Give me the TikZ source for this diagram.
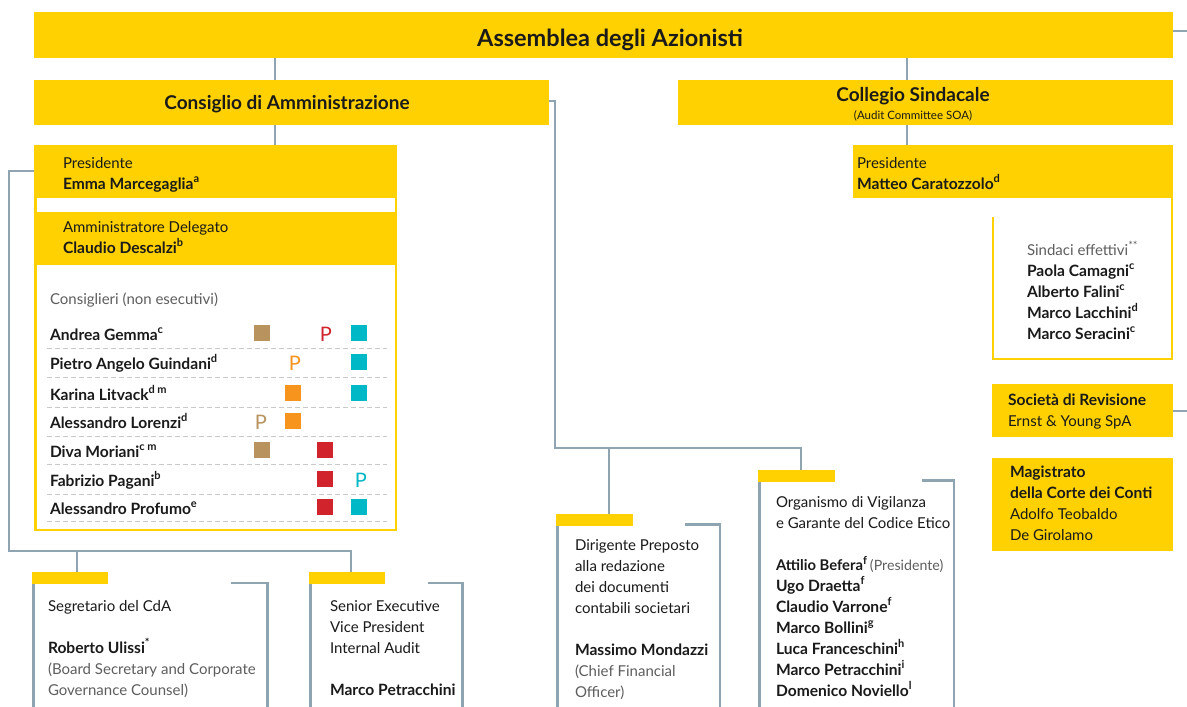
\documentclass[tikz,border=0pt]{standalone}
\usepackage{fontspec}
\setmainfont{Lato}
\definecolor{ey}{HTML}{FFD100}
\definecolor{lg}{HTML}{8FA4B1}
\definecolor{td}{HTML}{1A1A1A}
\definecolor{tg}{HTML}{5E5E5E}
\definecolor{dl}{HTML}{C9C9C9}
\definecolor{ctan}{HTML}{B9935E}
\definecolor{corg}{HTML}{F6941E}
\definecolor{cred}{HTML}{D0232B}
\definecolor{ccy}{HTML}{00B8C6}
\newcommand\sps[1]{\raisebox{0.4em}{\fontsize{11}{11}\selectfont #1}}
\newcommand\bodyf{\fontsize{15}{21}\selectfont}
\newcommand\nm[1]{{\fontsize{15.6}{21}\selectfont\bfseries #1}}
\newcommand\mlines[1]{\begin{tabular}[t]{@{}l@{}}#1\end{tabular}}
\newcommand\gt[1]{\textcolor{tg}{#1}}
\tikzset{
  ybox/.style={fill=ey, inner sep=0pt, outer sep=0pt, anchor=north west},
  conn/.style={draw=lg, line width=2.5pt},
  txt/.style={anchor=base west, inner sep=0pt, outer sep=0pt, font=\bodyf, text=td},
  sq/.style={fill=#1, minimum size=16pt, inner sep=0pt, outer sep=0pt},
  pl/.style={text=#1, font=\fontsize{20}{20}\selectfont, inner sep=0pt, anchor=base},
  dline/.style={draw=dl, line width=1pt, dash pattern=on 5pt off 3pt},
  yline/.style={draw=ey, line width=2.5pt},
  headf/.style={font=\fontsize{23.5}{26}\selectfont\bfseries, text=td, inner sep=0pt, anchor=base},
  subf/.style={font=\fontsize{19}{22}\selectfont\bfseries, text=td, inner sep=0pt, anchor=base},
}
\begin{document}
\begin{tikzpicture}[x=1pt,y=-1pt]
\useasboundingbox[fill=white] (0,0) rectangle (1187,707);
% helper coordinates
\coordinate (xa) at (275,0);
\coordinate (xb) at (907,0);
\coordinate (edge) at (1187,0);
\coordinate (ay) at (0,31);
\coordinate (lx) at (9,0);
\coordinate (hy) at (0,551);
\coordinate (segJ) at (77,0);
\coordinate (senJ) at (351,0);
\coordinate (rx) at (555,0);
\coordinate (hy2) at (0,448);
\coordinate (dJ) at (609,0);
\coordinate (oJ) at (801,0);
\coordinate (bot) at (0,712);

% top boxes
\node[ybox, minimum width=1139pt, minimum height=46pt] (ass) at (34,12) {};
\node[headf] (assT) at (610,46) {Assemblea degli Azionisti};
\node[ybox, minimum width=515pt, minimum height=45pt] (cda) at (34,80) {};
\node[subf] (cdaT) at (287,109) {Consiglio di Amministrazione};
\node[ybox, minimum width=495pt, minimum height=45pt] (cs) at (678,80) {};
\node[subf] (csT) at (913,101.5) {Collegio Sindacale};
\node[font=\fontsize{11.5}{12}\selectfont, text=td, inner sep=0pt, anchor=base] (csS) at (913,119.5) {(Audit Committee SOA)};

% board block
\node[ybox, minimum width=363pt, minimum height=53pt] (presB) at (34,145) {};
\node[ybox, minimum width=363pt, minimum height=53pt] (adB) at (34,212) {};
\node[draw=ey, line width=2.5pt, inner sep=0pt, outer sep=0pt, anchor=north west, minimum width=360.5pt, minimum height=383.5pt] (cons) at (35.25,146.25) {};
\node[txt] (presT) at (63,168) {\mlines{Presidente\\\nm{Emma Marcegaglia\sps{a}}}};
\node[txt] (adT) at (63,232) {\mlines{Amministratore Delegato\\\nm{Claudio Descalzi\sps{b}}}};
\node[txt, text=tg] (consT) at (50,304) {Consiglieri (non esecutivi)};

% dashed separators
\foreach \yy in {348,377,407,436,464,494,521}{
  \draw[dline] (47,\yy) -- (387,\yy);
}
% names
\node[txt] (n1) at (50,340) {\nm{Andrea Gemma\sps{c}}};
\node[txt] (n2) at (50,369) {\nm{Pietro Angelo Guindani\sps{d}}};
\node[txt] (n3) at (50,400) {\nm{Karina Litvack\sps{d m}}};
\node[txt] (n4) at (50,428) {\nm{Alessandro Lorenzi\sps{d}}};
\node[txt] (n5) at (50,457) {\nm{Diva Moriani\sps{c m}}};
\node[txt] (n6) at (50,486) {\nm{Fabrizio Pagani\sps{b}}};
\node[txt] (n7) at (50,514) {\nm{Alessandro Profumo\sps{e}}};
% committee marks
\node[sq=ctan] (s11) at (262,333) {};
\node[pl=cred] (p13) at (326,341) {P};
\node[sq=ccy] (s14) at (359,333) {};
\node[pl=corg] (p22) at (295,370) {P};
\node[sq=ccy] (s24) at (359,362) {};
\node[sq=corg] (s32) at (293,393) {};
\node[sq=ccy] (s34) at (359,393) {};
\node[pl=ctan] (p41) at (261,429) {P};
\node[sq=corg] (s42) at (293,421) {};
\node[sq=ctan] (s51) at (262,450) {};
\node[sq=cred] (s53) at (325,450) {};
\node[sq=cred] (s63) at (325,479) {};
\node[pl=ccy] (p64) at (361,487) {P};
\node[sq=cred] (s73) at (325,507) {};
\node[sq=ccy] (s74) at (359,507) {};

% right column
\node[ybox, minimum width=320pt, minimum height=53pt] (csp) at (853,145) {};
\node[txt] (cspT) at (857,168) {\mlines{Presidente\\\nm{Matteo Caratozzolo\sps{d}}}};
\draw[yline] (993,217) -- (993,358.75) -- (1171.75,358.75) -- (1171.75,198);
\node[txt] (sinT) at (1027,255) {\mlines{\gt{Sindaci effettivi\sps{**}}\\\nm{Paola Camagni\sps{c}}\\\nm{Alberto Falini\sps{c}}\\\nm{Marco Lacchini\sps{d}}\\\nm{Marco Seracini\sps{c}}}};
\node[ybox, minimum width=181pt, minimum height=53pt] (rev) at (992,384) {};
\node[txt] (revT) at (1008,405) {\mlines{\nm{Società di Revisione}\\Ernst \& Young SpA}};
\node[ybox, minimum width=181pt, minimum height=93pt] (mag) at (992,458) {};
\node[txt] (magT) at (1010,477) {\mlines{\nm{Magistrato}\\\nm{della Corte dei Conti}\\Adolfo Teobaldo\\De Girolamo}};

% bottom boxes
\node[ybox, minimum width=76pt, minimum height=11.5pt] (segTab) at (32,572) {};
\node[ybox, minimum width=76pt, minimum height=11.5pt] (senTab) at (309,572) {};
\node[ybox, minimum width=77pt, minimum height=11.5pt] (dirTab) at (556,514) {};
\node[ybox, minimum width=77pt, minimum height=11.5pt] (orgTab) at (758,470) {};
\draw[conn] ([xshift=1.25pt]segTab.south west) -- ([xshift=1.25pt]segTab.south west |- bot);
\draw[conn] (231,583) -- (267.5,583) -- (267.5,712);
\draw[conn] ([xshift=1.25pt]senTab.south west) -- ([xshift=1.25pt]senTab.south west |- bot);
\draw[conn] (428,583) -- (462.5,583) -- (462.5,712);
\draw[conn] ([xshift=1.25pt]dirTab.south west) -- ([xshift=1.25pt]dirTab.south west |- bot);
\draw[conn] (685,524.5) -- (720,524.5) -- (720,712);
\draw[conn] ([xshift=1.25pt]orgTab.south west) -- ([xshift=1.25pt]orgTab.south west |- bot);
\draw[conn] (922,480.5) -- (954,480.5) -- (954,712);

\node[txt] (segT) at (48,611) {\mlines{Segretario del CdA\\ \\\nm{Roberto Ulissi\sps{*}}\\\gt{(Board Secretary and Corporate}\\\gt{Governance Counsel)}}};
\node[txt] (senT) at (330,611) {\mlines{Senior Executive\\Vice President\\Internal Audit\\ \\\nm{Marco Petracchini}}};
\node[txt] (dirT) at (575,550) {\mlines{Dirigente Preposto\\alla redazione\\dei documenti\\contabili societari\\ \\\nm{Massimo Mondazzi}\\\gt{(Chief Financial}\\\gt{Officer)}}};
\node[txt] (orgT) at (776,507) {\mlines{Organismo di Vigilanza\\e Garante del Codice Etico\\ \\{\fontsize{14.8}{21}\selectfont\bfseries Attilio Befera\sps{f}}\hspace{3pt}{\fontsize{14.2}{21}\selectfont\gt{(Presidente)}}\\\nm{Ugo Draetta\sps{f}}\\\nm{Claudio Varrone\sps{f}}\\\nm{Marco Bollini\sps{g}}\\\nm{Luca Franceschini\sps{h}}\\\nm{Marco Petracchini\sps{i}}\\\nm{Domenico Noviello\sps{l}}}};

% connectors
\draw[conn] (ass.south -| xa) -- (cda.north -| xa);
\draw[conn] (cda.south -| xa) -- (presB.north -| xa);
\draw[conn] (ass.south -| xb) -- (cs.north -| xb);
\draw[conn] (cs.south -| xb) -- (csp.north -| xb);
\draw[conn] (ass.east |- ay) -- (edge |- ay);
\draw[conn] (rev.east |- 0,411) -- (edge |- 0,411);
\draw[conn] (presB.west |- 0,171) -- (lx |- 0,171) -- (lx |- hy) -- (senJ |- hy) -- (senJ |- senTab.north);
\draw[conn] (segJ |- hy) -- (segJ |- segTab.north);
\draw[conn] (cda.east |- 0,101) -- (rx |- 0,101) -- (rx |- hy2) -- (oJ |- hy2) -- (oJ |- orgTab.north);
\draw[conn] (dJ |- hy2) -- (dJ |- dirTab.north);
\end{tikzpicture}
\end{document}
